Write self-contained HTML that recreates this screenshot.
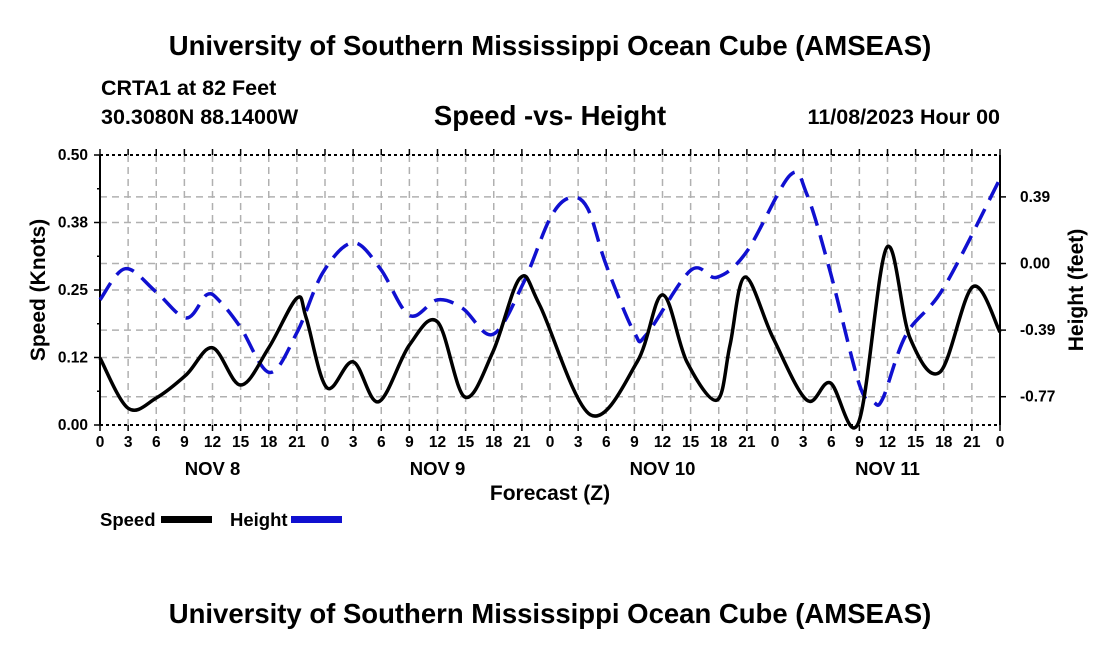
<!DOCTYPE html>
<html><head><meta charset="utf-8"><style>
body{margin:0;background:#fff;}
svg{display:block;font-family:"Liberation Sans",Arial,sans-serif;font-weight:bold;}
</style></head><body>
<svg id="chart" width="1100" height="650" viewBox="0 0 1100 650">
<text x="550" y="55" font-size="27.5" text-anchor="middle">University of Southern Mississippi Ocean Cube (AMSEAS)</text>
<text x="101" y="95" font-size="21.5">CRTA1 at 82 Feet</text>
<text x="101" y="124" font-size="21.5">30.3080N  88.1400W</text>
<text x="550" y="125" font-size="27.5" text-anchor="middle">Speed -vs- Height</text>
<text x="1000" y="124" font-size="21.5" text-anchor="end">11/08/2023 Hour 00</text>
<g id="grid"></g>
<g id="axes"></g>
<g id="series"></g>
<text x="550" y="500" font-size="21" text-anchor="middle">Forecast (Z)</text>
<text transform="translate(45,290) rotate(-90)" font-size="21" text-anchor="middle">Speed (Knots)</text>
<text transform="translate(1083,290) rotate(-90)" font-size="21" text-anchor="middle">Height (feet)</text>
<g>
<text x="100" y="526" font-size="18.5">Speed</text>
<rect x="161" y="516" width="51" height="7" fill="#000"/>
<text x="230" y="526" font-size="18.5">Height</text>
<rect x="291" y="516" width="51" height="7" fill="#1010d0"/>
</g>
<text x="550" y="623" font-size="27.5" text-anchor="middle">University of Southern Mississippi Ocean Cube (AMSEAS)</text>
</svg>
<script>
const speedHours = [0,3,6,9.2,12,15,18,21,22,24.2,27,29.7,33,36,38.9,41.9,44.8,46.9,52.3,57.3,60,62.6,65.8,67.2,68.8,71.8,75.4,77.9,80.9,83.9,86.4,89.6,93.1,96];
const speedValues = [0.124,0.031,0.050,0.093,0.143,0.074,0.143,0.235,0.198,0.069,0.117,0.043,0.148,0.191,0.052,0.135,0.272,0.222,0.019,0.117,0.241,0.117,0.046,0.148,0.274,0.161,0.046,0.078,0.004,0.328,0.161,0.098,0.256,0.172];
const heightHours = [0,2.7,6,9.2,11.4,12.8,15,18.1,21,23.8,27,29.9,33,36,38.7,41.9,45.1,48,50.1,52,54,57,58.3,63,65.8,69,73.6,75.4,77.9,81,82.5,83.5,86,90,96];
const heightValues = [-0.21,-0.03,-0.165,-0.315,-0.18,-0.22,-0.37,-0.63,-0.40,-0.05,0.12,-0.03,-0.30,-0.21,-0.26,-0.41,-0.12,0.26,0.38,0.32,-0.01,-0.40,-0.41,-0.04,-0.08,0.07,0.51,0.40,-0.05,-0.70,-0.80,-0.78,-0.41,-0.14,0.49];
const leftTicks = [0,0.125,0.25,0.375,0.5];
const leftTickLabels = ["0.00","0.12","0.25","0.38","0.50"];
const rightTicks = [-0.77,-0.385,0,0.385];
const rightTickLabels = ["-0.77","-0.39","0.00","0.39"];
const hourLabels = ["0","3","6","9","12","15","18","21"];
const dayLabels = ["NOV 8","NOV 9","NOV 10","NOV 11"];

const NS="http://www.w3.org/2000/svg";
const X0=100,X1=1000,Y0=425,Y1=155;
const xs=h=>X0+h*(X1-X0)/96;
const yL=v=>Y0-v*(Y0-Y1)/0.5;
const yR=v=>263.5-v*173;
function mk(parent,tag,attrs){const e=document.createElementNS(NS,tag);for(const k in attrs)e.setAttribute(k,attrs[k]);parent.appendChild(e);return e;}
const grid=document.getElementById('grid'),axes=document.getElementById('axes'),series=document.getElementById('series');
const hg=[...leftTicks.map(yL),...rightTicks.map(yR)];
hg.forEach(y=>{if(y>Y1+1&&y<Y0-1){const l=mk(grid,'line',{x1:X0,x2:X1,y1:y,y2:y,stroke:'#b0b0b0','stroke-width':1.5,'stroke-dasharray':'7,5'});

}});
for(let h=3;h<96;h+=3){const l=mk(grid,'line',{x1:xs(h),x2:xs(h),y1:Y1,y2:Y0,stroke:'#b0b0b0','stroke-width':1.5,'stroke-dasharray':'7,5'});

}
[[X0,Y1,X1,Y1],[X0,Y0,X1,Y0]].forEach(c=>{const l=mk(axes,'line',{x1:c[0],y1:c[1],x2:c[2],y2:c[3],stroke:'#000','stroke-width':2,'stroke-dasharray':'3,3'});

});
mk(axes,'line',{x1:X0,y1:Y1,x2:X0,y2:Y0,stroke:'#000','stroke-width':2});
mk(axes,'line',{x1:X1,y1:Y1,x2:X1,y2:Y0,stroke:'#000','stroke-width':2});
leftTicks.forEach((v,i)=>{const y=yL(v);mk(axes,'line',{x1:X0-6,x2:X0,y1:y,y2:y,stroke:'#000','stroke-width':1.5});
const t=mk(axes,'text',{x:X0-12,y:y+5,'font-size':15.5,'text-anchor':'end'});t.textContent=leftTickLabels[i];

});
for(let v=0.0625;v<0.5;v+=0.125){const y=yL(v);mk(axes,'line',{x1:X0-3,x2:X0,y1:y,y2:y,stroke:'#000','stroke-width':1.5});}
rightTicks.forEach((v,i)=>{const y=yR(v);mk(axes,'line',{x1:X1,x2:X1+6,y1:y,y2:y,stroke:'#000','stroke-width':1.5});
const t=mk(axes,'text',{x:X1+20,y:y+5,'font-size':15.5});t.textContent=rightTickLabels[i];

});
for(let h=0;h<=96;h+=3){const x=xs(h);mk(axes,'line',{x1:x,x2:x,y1:Y0,y2:Y0+6,stroke:'#000','stroke-width':1.5});mk(axes,'line',{x1:x,x2:x,y1:Y1-6,y2:Y1,stroke:'#000','stroke-width':1.5});
const t=mk(axes,'text',{x:x,y:447,'font-size':15.5,'text-anchor':'middle'});t.textContent=hourLabels[(h/3)%8];

}
dayLabels.forEach((d,i)=>{const t=mk(axes,'text',{x:xs(12+24*i),y:475,'font-size':18.5,'text-anchor':'middle'});t.textContent=d;

});
function spline(pts){let d=`M${pts[0][0]},${pts[0][1]}`;for(let i=0;i<pts.length-1;i++){const p0=pts[Math.max(0,i-1)],p1=pts[i],p2=pts[i+1],p3=pts[Math.min(pts.length-1,i+2)];
const c1=[p1[0]+(p2[0]-p0[0])/6,p1[1]+(p2[1]-p0[1])/6],c2=[p2[0]-(p3[0]-p1[0])/6,p2[1]-(p3[1]-p1[1])/6];
d+=`C${c1[0]},${c1[1]} ${c2[0]},${c2[1]} ${p2[0]},${p2[1]}`;}return d;}
const hp=mk(series,'path',{d:spline(heightHours.map((h,i)=>[xs(h),yR(heightValues[i])])),fill:'none',stroke:'#1010d0','stroke-width':3.5,'stroke-dasharray':'20,10'});


const sp=mk(series,'path',{d:spline(speedHours.map((h,i)=>[xs(h),yL(speedValues[i])])),fill:'none',stroke:'#000','stroke-width':3.5,'stroke-linejoin':'round'});


</script>
</body></html>
